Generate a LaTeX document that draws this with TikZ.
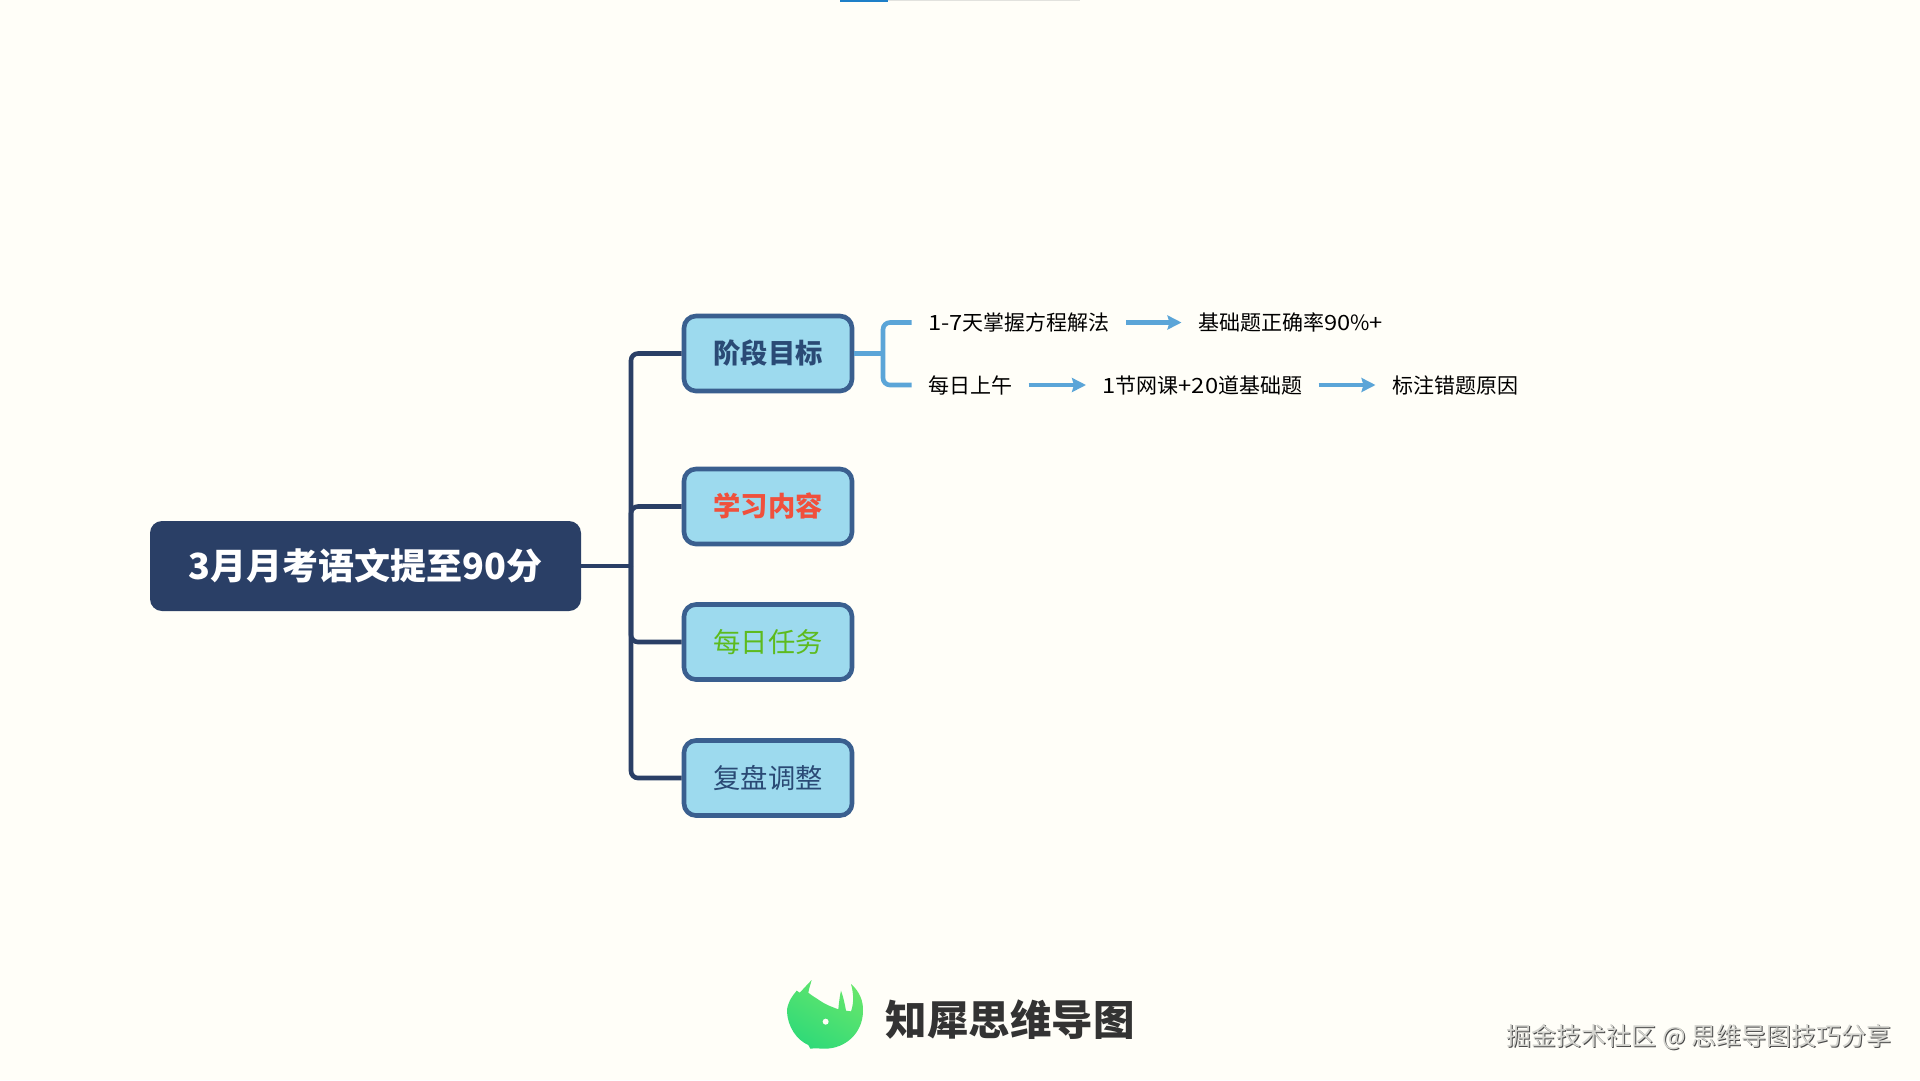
\documentclass[tikz,border=0pt]{standalone}
\usepackage{fontspec}
\setmainfont{Noto Sans CJK SC}
\newfontfamily\latinwide[FakeStretch=1.13]{Noto Sans CJK SC}
\usetikzlibrary{arrows.meta}
\definecolor{bgc}{HTML}{FFFEF8}
\definecolor{rootc}{HTML}{2A3F66}
\definecolor{boxfill}{HTML}{9DDAEE}
\definecolor{boxline}{HTML}{3A5F8F}
\definecolor{labc}{HTML}{2A4A75}
\definecolor{redc}{HTML}{F0503C}
\definecolor{greenc}{HTML}{5DBB1E}
\definecolor{linkc}{HTML}{5BA5D8}
\definecolor{logotxt}{HTML}{333333}
\definecolor{wmface}{HTML}{D4D4CF}
\definecolor{wmshadow}{HTML}{4A4A4A}
\definecolor{barblue}{HTML}{1E7FC8}
\definecolor{bargray}{HTML}{E2E2DE}
\definecolor{logoa}{HTML}{66E66C}
\definecolor{logob}{HTML}{30DA78}
\newcommand{\embossed}[1]{\rlap{\raisebox{-1pt}{\hspace{1pt}\textcolor{wmshadow}{#1}}}\textcolor{wmface}{#1}}
\newcommand{\lw}[1]{{\latinwide #1}}
\tikzset{
  rootbox/.style={fill=rootc,rounded corners=12pt,minimum width=431pt,minimum height=90pt,inner sep=0pt,outer sep=0pt,text=white,font=\fontsize{36}{42}\selectfont\bfseries},
  topicbox/.style={draw=boxline,line width=4.6pt,fill=boxfill,rounded corners=12pt,minimum width=168pt,minimum height=75pt,inner sep=0pt,outer sep=2.3pt,font=\fontsize{27.3}{32}\selectfont},
  leaf/.style={anchor=west,inner xsep=16.5pt,inner ysep=0pt,outer sep=0pt,text=black,text height=18.5pt,text depth=2.5pt,font=\fontsize{21}{25}\selectfont},
  trunkline/.style={draw=rootc,line width=4.6pt,rounded corners=7pt},
  bracketline/.style={draw=linkc,line width=4.6pt,rounded corners=7pt},
  flowarrow/.style={draw=linkc,line width=4.4pt,-{Stealth[length=14pt,width=14pt,inset=2pt]}},
}
\begin{document}
\begin{tikzpicture}[x=1pt,y=-1pt]
\useasboundingbox (0,0) rectangle (1920,1080);
\fill[bgc] (0,0) rectangle (1920,1080);
% top progress bar
\fill[bargray] (888,0) rectangle (1080,1.2);
\fill[barblue] (840,0) rectangle (888,1.5);
% nodes
\node[rootbox,text height=31.7pt,text depth=4.3pt] (root) at (365.5,566) {3月月考语文提至90分};
\node[topicbox,text=labc,font=\fontsize{27.3}{32}\selectfont\bfseries,text height=24pt,text depth=3.3pt] (b1) at (768,353.5) {阶段目标};
\node[topicbox,text=redc,font=\fontsize{27.3}{32}\selectfont\bfseries,text height=24pt,text depth=3.3pt] (b2) at (768,506.5) {学习内容};
\node[topicbox,text=greenc,text height=24pt,text depth=3.3pt] (b3) at (768,642) {每日任务};
\node[topicbox,text=labc,text height=24pt,text depth=3.3pt] (b4) at (768,778) {复盘调整};
\node[leaf] (t1) at (911.5,322.5) {\lw{1-7}天掌握方程解法};
\node[leaf] (t2) at (1181.5,322.5) {基础题正确率\lw{90}\%\lw{+}};
\node[leaf] (t3) at (911.5,385) {每日上午};
\node[leaf] (t4) at (1086,385) {\lw{1}节网课\lw{+20}道基础题};
\node[leaf] (t5) at (1375.5,385) {标注错题原因};
\coordinate (trunk) at (631,566);
\coordinate (bk) at (883,353.5);
% trunk
\draw[trunkline] (b1.west) -| (trunk |- b4) -- (b4.west);
\draw[trunkline] (b2.west) -| (trunk);
\draw[trunkline] (b3.west) -| (trunk);
\draw[trunkline,rounded corners=0pt] (root.east) -- (trunk);
% bracket
\draw[bracketline] (t1.west) -| (bk |- t3) -- (t3.west);
\draw[bracketline,rounded corners=0pt] (b1.east) -- (bk);
% arrows
\draw[flowarrow] (t1) -- (t2);
\draw[flowarrow] (t3) -- (t4);
\draw[flowarrow] (t4) -- (t5);
% logo
\begin{scope}[shift={(775,970)},x=0.3333pt,y=-0.3333pt]
\shade[left color=logoa,right color=logob,shading angle=-30]
 (65,62) -- (74,68) .. controls (87,55) and (98,42) .. (110,30)
 .. controls (106,45) and (102,55) .. (100,68)
 .. controls (112,78) and (125,85) .. (135,92)
 .. controls (155,106) and (175,112) .. (190,118)
 .. controls (192,95) and (195,75) .. (198,62)
 .. controls (205,80) and (210,105) .. (213,122)
 -- (228,124) .. controls (237,100) and (236,70) .. (228,42)
 .. controls (255,65) and (265,95) .. (264,122)
 .. controls (264,190) and (210,236) .. (150,236)
 .. controls (135,236) and (120,234) .. (106,236)
 -- (100,225)
 .. controls (65,210) and (38,170) .. (36,125)
 .. controls (36,100) and (50,80) .. (65,62) -- cycle;
\fill[bgc] (152,155) circle (9);
\end{scope}
\node[inner sep=0pt,text=logotxt,font=\fontsize{41.5}{48}\selectfont\bfseries] (logotext) at (1010,1020) {知犀思维导图};
\node[inner sep=0pt,font=\fontsize{25}{30}\selectfont] (mark) at (1699,1038) {\embossed{掘金技术社区 @ 思维导图技巧分享}};
\end{tikzpicture}
\end{document}
